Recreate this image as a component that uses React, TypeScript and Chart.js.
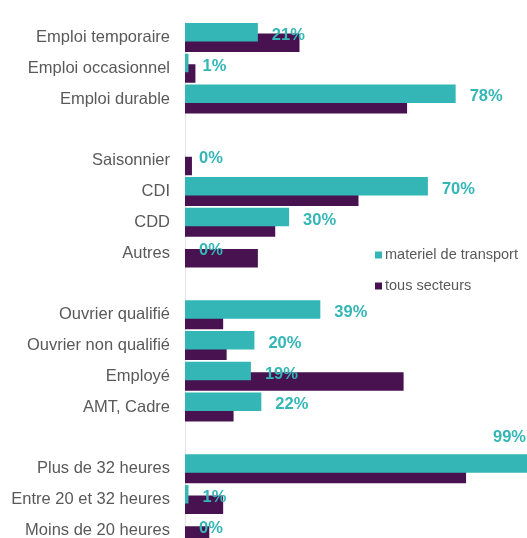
import React, { useEffect, useRef } from "react";
import { Chart, registerables } from "chart.js";

Chart.register(...registerables);

const categories = [
  "Emploi temporaire",
  "Emploi occasionnel",
  "Emploi durable",
  "",
  "Saisonnier",
  "CDI",
  "CDD",
  "Autres",
  "",
  "Ouvrier qualifié",
  "Ouvrier non qualifié",
  "Employé",
  "AMT, Cadre",
  "",
  "Plus de 32 heures",
  "Entre 20 et 32 heures",
  "Moins de 20 heures",
];

const materielTransport = [21, 1, 78, null, 0, 70, 30, 0, null, 39, 20, 19, 22, null, 99, 1, 0];
const tousSecteurs = [33, 3, 64, null, 2, 50, 26, 21, null, 11, 12, 63, 14, null, 81, 11, 7];

const seriesNames = ["materiel de transport", "tous secteurs"];

const TEAL = "#34b6b7";
const PURPLE = "#47124f";
const TEXT_GREY = "#595959";
const FONT = "'Liberation Sans', Arial, Helvetica, sans-serif";
const VISIBLE_W = 527;

const labelsPlugin = {
  id: "tealLabels",
  afterDatasetsDraw(chart: any) {
    const ctx = chart.ctx;
    const meta = chart.getDatasetMeta(0);
    ctx.save();
    ctx.font = `bold 16.5px ${FONT}`;
    ctx.fillStyle = TEAL;
    ctx.textBaseline = "middle";
    meta.data.forEach((bar: any, i: number) => {
      const v = materielTransport[i];
      if (v === null || v === undefined) return;
      const text = `${v}%`;
      const w = ctx.measureText(text).width;
      let x = bar.x + 14;
      let y = bar.y + 3;
      ctx.textAlign = "left";
      if (x + w > VISIBLE_W) {
        ctx.textAlign = "right";
        x = VISIBLE_W - 1;
        y = bar.y - bar.height / 2 - 17;
      }
      ctx.fillText(text, x, y);
    });
    ctx.restore();
  },
};

const legendPlugin = {
  id: "customLegend",
  afterDraw(chart: any) {
    const ctx = chart.ctx;
    const colors = [TEAL, PURPLE];
    const ys = [255, 286];
    ctx.save();
    ctx.font = `14.5px ${FONT}`;
    ctx.textBaseline = "middle";
    ctx.textAlign = "left";
    seriesNames.forEach((name, i) => {
      ctx.fillStyle = colors[i];
      ctx.fillRect(375, ys[i] - 3.5, 7, 7);
      ctx.fillStyle = TEXT_GREY;
      ctx.fillText(name, 385, ys[i]);
    });
    ctx.restore();
  },
};

export default function App() {
  const canvasRef = useRef<HTMLCanvasElement | null>(null);

  useEffect(() => {
    if (!canvasRef.current) return;
    const chart = new Chart(canvasRef.current, {
      type: "bar",
      data: {
        labels: categories,
        datasets: [
          {
            label: seriesNames[0],
            data: materielTransport,
            backgroundColor: TEAL,
            barPercentage: 1.762,
            categoryPercentage: 0.682,
          },
          {
            label: seriesNames[1],
            data: tousSecteurs,
            backgroundColor: PURPLE,
            barPercentage: 1.762,
            categoryPercentage: 0.682,
          },
        ],
      },
      options: {
        indexAxis: "y",
        responsive: true,
        maintainAspectRatio: false,
        animation: false,
        devicePixelRatio: 1,
        layout: { padding: { top: 22.1, bottom: 14.3, left: 0, right: 8 } },
        plugins: {
          legend: { display: false },
          tooltip: { enabled: false },
        },
        scales: {
          x: { display: false, min: 0, max: 100 },
          y: {
            afterFit(scale: any) {
              scale.width = 185;
              scale.paddingTop = 0;
              scale.paddingBottom = 0;
            },
            grid: { display: false, drawTicks: false },
            border: { display: true, color: "#e3e3e3", width: 1 },
            ticks: {
              padding: 15,
              color: TEXT_GREY,
              autoSkip: false,
              font: { family: FONT, size: 16.5 },
            },
          },
        },
      } as any,
      plugins: [labelsPlugin, legendPlugin],
    });
    return () => chart.destroy();
  }, []);

  return (
    <div
      style={{
        position: "fixed",
        left: 0,
        top: 0,
        width: 527,
        height: 538,
        overflow: "hidden",
        background: "#ffffff",
      }}
    >
      <div style={{ position: "relative", width: 540, height: 560 }}>
        <canvas ref={canvasRef} />
      </div>
    </div>
  );
}
